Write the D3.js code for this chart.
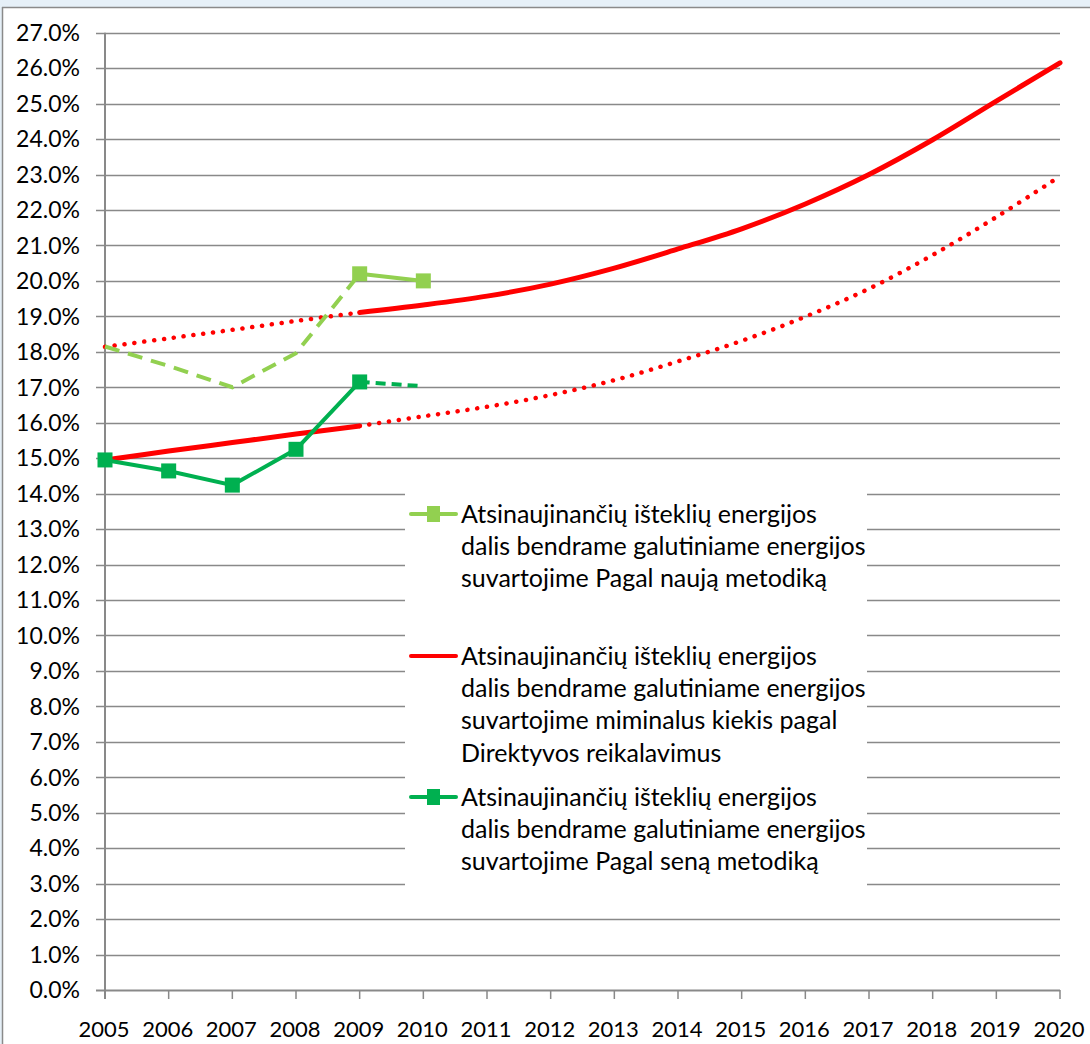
<!DOCTYPE html>
<html lang="lt">
<head>
<meta charset="utf-8">
<title>Atsinaujinančių išteklių energijos dalis</title>
<script src="https://cdn.jsdelivr.net/npm/d3@7"></script>
<style>
  * { margin: 0; padding: 0; }
  body { background: #e6f0f8; }
  svg { display: block; }
  text { font-family: Lato, "Open Sans", sans-serif; fill: #000; }
</style>
</head>
<body>
<div id="chart"></div>
<script>
// --- data ---
const years = [2005, 2006, 2007, 2008, 2009, 2010, 2011, 2012, 2013, 2014, 2015, 2016, 2017, 2018, 2019, 2020];
const yTicks = [0, 1, 2, 3, 4, 5, 6, 7, 8, 9, 10, 11, 12, 13, 14, 15, 16, 17, 18, 19, 20, 21, 22, 23, 24, 25, 26, 27];

// new methodology: estimated (dashed) 2005-2009, actual 2009-2010
const newEstYears = [2005, 2006, 2007, 2008, 2009];
const newEst = [18.15, 17.6, 17.0, 17.96, 20.2];
const newActYears = [2009, 2010];
const newAct = [20.2, 20.0];

// old methodology: actual 2005-2009, estimate (dashed) 2009-2010
const oldActYears = [2005, 2006, 2007, 2008, 2009];
const oldAct = [14.95, 14.64, 14.24, 15.25, 17.15];
const oldEstYears = [2009, 2010];
const oldEst = [17.15, 17.03];

// minimal trajectory (directive), old basis: solid to 2009, dotted after
const minOld = [14.95, 15.2, 15.44, 15.68, 15.91, 16.18, 16.45, 16.78, 17.2, 17.73, 18.31, 18.99, 19.78, 20.73, 21.8, 22.95];
// minimal trajectory rescaled to new basis: dotted to 2009, solid after
const minNew = [18.14, 18.38, 18.62, 18.87, 19.11, 19.32, 19.57, 19.91, 20.36, 20.9, 21.47, 22.17, 23.0, 23.98, 25.07, 26.15];

const legendItems = [
  { lines: ["Atsinaujinančių išteklių energijos", "dalis bendrame galutiniame energijos", "suvartojime Pagal naują metodiką"], color: "#92d050", marker: true },
  { lines: ["Atsinaujinančių išteklių energijos", "dalis bendrame galutiniame energijos", "suvartojime miminalus kiekis pagal", "Direktyvos reikalavimus"], color: "#ff0000", marker: false },
  { lines: ["Atsinaujinančių išteklių energijos", "dalis bendrame galutiniame energijos", "suvartojime Pagal seną metodiką"], color: "#00b050", marker: true }
];

const W = 1090, H = 1044;
const svg = d3.select("#chart").append("svg")
  .attr("width", W).attr("height", H);

// frame
svg.append("rect").attr("x", 3).attr("y", 8).attr("width", W).attr("height", H).attr("fill", "#fff");
svg.append("line").attr("x1", 2).attr("x2", W).attr("y1", 7.5).attr("y2", 7.5)
  .attr("stroke", "#8a8a8a").attr("stroke-width", 1.5);
svg.append("line").attr("x1", 2.5).attr("x2", 2.5).attr("y1", 7).attr("y2", H)
  .attr("stroke", "#8a8a8a").attr("stroke-width", 1.5);

const x = d3.scaleLinear().domain([2005, 2020]).range([105, 1060]);
const y = d3.scaleLinear().domain([0, 27]).range([990, 32.7]);

const grid = "#898989";

// gridlines + y ticks
svg.append("g").selectAll("line").data(yTicks).join("line")
  .attr("x1", 96).attr("x2", x(2020))
  .attr("y1", d => Math.round(y(d)) + 0.5).attr("y2", d => Math.round(y(d)) + 0.5)
  .attr("stroke", grid).attr("stroke-width", d => d === 0 ? 2 : 1.4);

svg.append("g").selectAll("text").data(yTicks).join("text")
  .attr("x", 80).attr("y", d => y(d))
  .attr("dy", "0.36em")
  .attr("text-anchor", "end")
  .style("font-size", "23px")
  .text(d => d3.format(".1f")(d) + "%");

// y axis line
svg.append("line").attr("x1", x(2005)).attr("x2", x(2005))
  .attr("y1", y(27)).attr("y2", y(0) + 9)
  .attr("stroke", grid).attr("stroke-width", 2);

// x ticks + labels
svg.append("g").selectAll("line").data(years).join("line")
  .attr("x1", d => x(d)).attr("x2", d => x(d))
  .attr("y1", y(0)).attr("y2", y(0) + 9)
  .attr("stroke", grid).attr("stroke-width", 1.5);

svg.append("g").selectAll("text").data(years).join("text")
  .attr("x", d => x(d) - 1).attr("y", 1037)
  .attr("text-anchor", "middle")
  .style("font-size", "22px")
  .text(d => d);

// legend box (covers gridlines)
const lg = svg.append("g");
lg.append("rect").attr("x", 405).attr("y", 478).attr("width", 462).attr("height", 422).attr("fill", "#fff");

// series
const line = d3.line().x(d => x(d[0])).y(d => y(d[1]));
const smooth = d3.line().x(d => x(d[0])).y(d => y(d[1])).curve(d3.curveCatmullRom.alpha(0.5));
const zip = (xs, vs) => xs.map((v, i) => [v, vs[i]]);

const series = svg.append("g").attr("fill", "none");

// red trajectories
const minOldPts = zip(years, minOld);
const minNewPts = zip(years, minNew);
series.append("path").attr("d", smooth(minOldPts.filter(d => d[0] <= 2009)))
  .attr("stroke", "#ff0000").attr("stroke-width", 5).attr("stroke-linecap", "round");
series.append("path").attr("d", smooth(minOldPts.filter(d => d[0] >= 2009)))
  .attr("stroke", "#ff0000").attr("stroke-width", 4.5).attr("stroke-linecap", "round")
  .attr("stroke-dasharray", "0.1 9.8");
series.append("path").attr("d", smooth(minNewPts.filter(d => d[0] <= 2009)))
  .attr("stroke", "#ff0000").attr("stroke-width", 4.5).attr("stroke-linecap", "round")
  .attr("stroke-dasharray", "0.1 9.8");
series.append("path").attr("d", smooth(minNewPts.filter(d => d[0] >= 2009)))
  .attr("stroke", "#ff0000").attr("stroke-width", 5).attr("stroke-linecap", "round");

// new methodology
series.append("path").attr("d", line(zip(newEstYears, newEst)))
  .attr("stroke", "#92d050").attr("stroke-width", 4)
  .attr("stroke-dasharray", "15 9");
series.append("path").attr("d", line(zip(newActYears, newAct)))
  .attr("stroke", "#92d050").attr("stroke-width", 4);

// old methodology
series.append("path").attr("d", line(zip(oldEstYears, oldEst)))
  .attr("stroke", "#00b050").attr("stroke-width", 4)
  .attr("stroke-dasharray", "10 6");
series.append("path").attr("d", line(zip(oldActYears, oldAct)))
  .attr("stroke", "#00b050").attr("stroke-width", 4);

const ms = 15;
svg.append("g").selectAll("rect").data(zip(newActYears, newAct)).join("rect")
  .attr("x", d => x(d[0]) - ms / 2).attr("y", d => y(d[1]) - ms / 2)
  .attr("width", ms).attr("height", ms).attr("fill", "#92d050");
svg.append("g").selectAll("rect").data(zip(oldActYears, oldAct)).join("rect")
  .attr("x", d => x(d[0]) - ms / 2).attr("y", d => y(d[1]) - ms / 2)
  .attr("width", ms).attr("height", ms).attr("fill", "#00b050");

// legend entries
const entryTop = [523, 665, 806];
const lineGap = 32.2;
legendItems.forEach((it, i) => {
  const by = entryTop[i];
  const my = by - 9;
  lg.append("line").attr("x1", 411).attr("x2", 456).attr("y1", my).attr("y2", my)
    .attr("stroke", it.color).attr("stroke-width", 4).attr("stroke-linecap", "round");
  if (it.marker) {
    lg.append("rect").attr("x", 427).attr("y", my - 8).attr("width", 13).attr("height", 16)
      .attr("fill", it.color);
  }
  lg.append("g").selectAll("text").data(it.lines).join("text")
    .attr("x", 461).attr("y", (d, j) => by + j * lineGap)
    .style("font-size", "25px")
    .text(d => d);
});
</script>
</body>
</html>
